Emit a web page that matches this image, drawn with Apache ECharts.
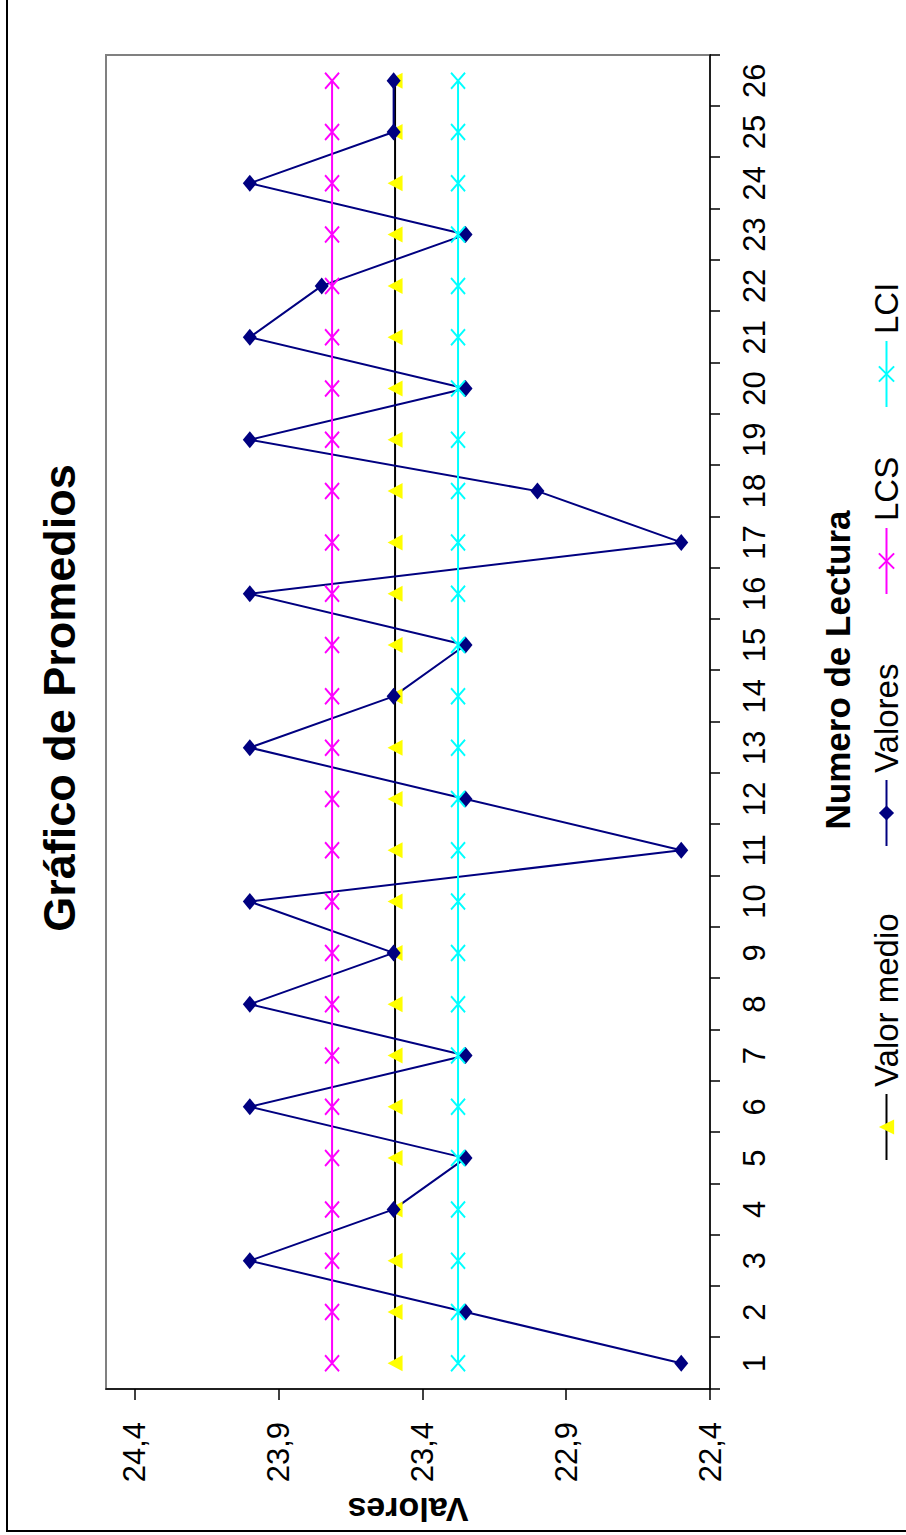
<!DOCTYPE html>
<html>
<head>
<meta charset="utf-8">
<script src="https://cdn.jsdelivr.net/npm/echarts@6/dist/echarts.min.js"></script>
<style>
html, body { margin: 0; padding: 0; background: #fff; overflow: hidden; width: 906px; height: 1535px; }
#chart { position: absolute; left: 0; top: 0; width: 1535px; height: 906px;
  transform-origin: 0 0; transform: translate(0px, 1535px) rotate(-90deg); }
</style>
</head>
<body>
<div id="chart"></div>
<script>
// ---- data ----
const categories = ['1','2','3','4','5','6','7','8','9','10','11','12','13','14','15','16','17','18','19','20','21','22','23','24','25','26'];
const valores = [22.5, 23.25, 24.0, 23.5, 23.25, 24.0, 23.25, 24.0, 23.5, 24.0, 22.5, 23.25, 24.0, 23.5, 23.25, 24.0, 22.5, 23.0, 24.0, 23.25, 24.0, 23.75, 23.25, 24.0, 23.5, 23.5];
const valorMedio = [23.495, 23.495, 23.495, 23.495, 23.495, 23.495, 23.495, 23.495, 23.495, 23.495, 23.495, 23.495, 23.495, 23.495, 23.495, 23.495, 23.495, 23.495, 23.495, 23.495, 23.495, 23.495, 23.495, 23.495, 23.495, 23.495];
const lcs = [23.714, 23.714, 23.714, 23.714, 23.714, 23.714, 23.714, 23.714, 23.714, 23.714, 23.714, 23.714, 23.714, 23.714, 23.714, 23.714, 23.714, 23.714, 23.714, 23.714, 23.714, 23.714, 23.714, 23.714, 23.714, 23.714];
const lci = [23.276, 23.276, 23.276, 23.276, 23.276, 23.276, 23.276, 23.276, 23.276, 23.276, 23.276, 23.276, 23.276, 23.276, 23.276, 23.276, 23.276, 23.276, 23.276, 23.276, 23.276, 23.276, 23.276, 23.276, 23.276, 23.276];
const valueTicks = [22.4, 22.9, 23.4, 23.9, 24.4];
const titleText = 'Gráfico de Promedios';
const xName = 'Numero de Lectura';
const yName = 'Valores';
const seriesNames = ['Valor medio', 'Valores', 'LCS', 'LCI'];

// ---- styling ----
const FONT = "'Liberation Sans', Arial, Helvetica, sans-serif";
const XMARK = 'path://M0,0L10,10M10,0L0,10';

const chart = echarts.init(document.getElementById('chart'), null, { renderer: 'svg', width: 1535, height: 906 });

function legendFor(name, left) {
  return {
    data: [name], left: left, top: 870, padding: 0, itemGap: 0,
    itemWidth: 66, itemHeight: 19, selectedMode: false,
    textStyle: { fontFamily: FONT, fontSize: 33, color: '#000', padding: [0, 0, 0, 2] }
  };
}

const option = {
  animation: false,
  backgroundColor: '#fff',
  textStyle: { fontFamily: FONT },
  title: {
    text: titleText, left: 837, top: 37, padding: 0, textAlign: 'center',
    textStyle: { fontFamily: FONT, fontSize: 45, fontWeight: 'bold', color: '#000' }
  },
  legend: [
    legendFor(seriesNames[0], 374),
    legendFor(seriesNames[1], 688),
    legendFor(seriesNames[2], 940),
    legendFor(seriesNames[3], 1127)
  ],
  graphic: [{
    type: 'rect', silent: true, z: 0,
    shape: { x: 4, y: 7, width: 3000, height: 3000 },
    style: { fill: 'none', stroke: '#000', lineWidth: 2 }
  }],
  grid: {
    left: 146, right: 55, top: 106, bottom: 196,
    show: true, borderColor: '#808080', borderWidth: 2, backgroundColor: 'transparent',
    outerBoundsMode: 'none', containLabel: false
  },
  xAxis: {
    type: 'category', data: categories, boundaryGap: true,
    name: xName, nameLocation: 'middle', nameGap: 110,
    nameTextStyle: { fontFamily: FONT, fontSize: 35, fontWeight: 'bold', color: '#000', padding: [0, 0, 0, 104] },
    axisLine: { show: true, lineStyle: { color: '#000', width: 1.5 } },
    axisTick: { show: true, inside: false, length: 10, alignWithLabel: false, lineStyle: { color: '#000', width: 1.5 } },
    axisLabel: { interval: 0, margin: 29, fontFamily: FONT, fontSize: 31, color: '#000' },
    splitLine: { show: false }
  },
  yAxis: {
    type: 'value', min: 22.4, max: 24.5,
    name: yName, nameLocation: 'middle', nameRotate: 90, nameGap: 97,
    nameTextStyle: { fontFamily: FONT, fontSize: 34, fontWeight: 'bold', color: '#000' },
    axisLine: { show: true, lineStyle: { color: '#000', width: 1.5 } },
    axisTick: { show: true, inside: false, length: 11, customValues: valueTicks, lineStyle: { color: '#000', width: 1.5 } },
    axisLabel: { customValues: valueTicks, margin: 33, fontFamily: FONT, fontSize: 31, color: '#000',
      formatter: v => Number(v).toFixed(1).replace('.', ',') },
    splitLine: { show: false }
  },
  series: [
    {
      name: seriesNames[0], type: 'line', data: valorMedio,
      symbol: 'triangle', symbolSize: [16, 15], showAllSymbol: true,
      lineStyle: { color: '#000', width: 2 },
      itemStyle: { color: '#FFFF00', borderWidth: 0 },
      emphasis: { disabled: true }
    },
    {
      name: seriesNames[1], type: 'line', data: valores,
      symbol: 'diamond', symbolSize: [17, 14], showAllSymbol: true,
      lineStyle: { color: '#000080', width: 2 },
      itemStyle: { color: '#000080', borderWidth: 0 },
      emphasis: { disabled: true }
    },
    {
      name: seriesNames[2], type: 'line', data: lcs,
      symbol: XMARK, symbolSize: [16, 14], showAllSymbol: true,
      lineStyle: { color: '#FF00FF', width: 2 },
      itemStyle: { color: '#FF00FF', borderColor: '#FF00FF', borderWidth: 2 },
      emphasis: { disabled: true }
    },
    {
      name: seriesNames[3], type: 'line', data: lci,
      symbol: XMARK, symbolSize: [16, 14], showAllSymbol: true,
      lineStyle: { color: '#00FFFF', width: 2 },
      itemStyle: { color: '#00FFFF', borderColor: '#00FFFF', borderWidth: 2 },
      emphasis: { disabled: true }
    }
  ]
};
chart.setOption(option);
</script>
</body>
</html>
